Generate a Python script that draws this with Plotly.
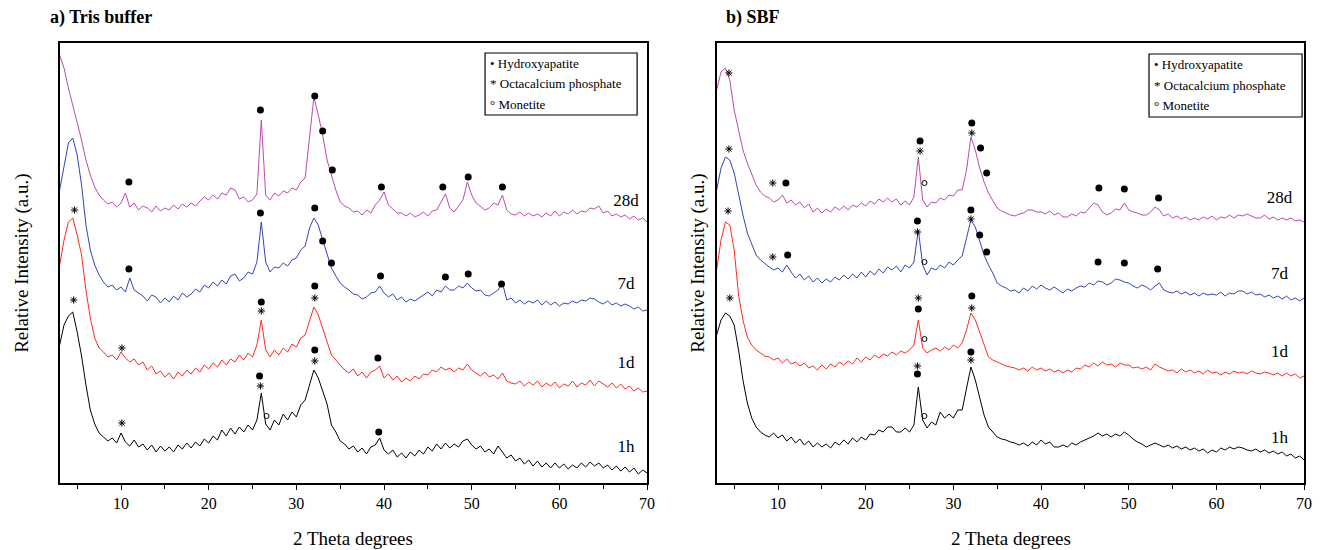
import plotly.graph_objects as go

W, H = 1325, 550

# 2-theta scan grid (degrees), 0.5 deg steps from 3 to 70
TWO_THETA = [3.0 + 0.5 * i for i in range(135)]

# ---------------- a) Tris buffer ----------------
tris_1h = [155,175,184,188,168,144,115,90,76,67,
           63,59,62,57,67,58,54,60,53,56,
           50,55,48,54,49,53,48,55,51,57,
           52,58,54,61,57,64,60,70,64,72,
           66,73,68,75,70,80,107,76,70,80,
           75,86,80,88,83,95,100,116,130,122,
           108,96,75,68,59,56,51,54,48,52,
           46,53,55,62,50,46,50,43,47,42,
           48,44,50,46,53,49,56,51,57,52,
           56,53,59,61,55,51,54,48,51,46,
           54,48,42,45,39,42,36,40,34,39,
           33,37,32,37,32,36,31,35,32,37,
           33,38,34,37,32,35,30,34,29,33,
           28,32,26,30,27]
tris_1d = [235,260,278,282,265,245,210,182,162,152,
           148,143,145,140,148,142,138,141,135,138,
           130,134,126,129,123,127,121,128,124,130,
           126,132,128,135,131,137,133,140,135,141,
           138,145,140,147,143,155,180,150,143,150,
           145,152,148,156,153,162,165,178,193,185,
           172,158,145,140,135,130,127,131,124,128,
           122,128,130,134,122,126,120,124,118,122,
           119,124,121,126,125,130,128,133,130,132,
           128,132,130,136,130,127,124,128,123,125,
           121,127,119,117,116,119,114,118,115,119,
           113,117,114,118,112,116,114,119,113,117,
           115,120,114,119,116,113,117,112,116,111,
           114,109,112,108,109]
tris_7d = [310,335,357,362,345,315,275,250,235,225,
           218,213,215,210,213,208,222,210,207,204,
           199,205,203,197,202,198,204,200,207,203,
           206,211,208,215,212,218,214,220,216,224,
           226,219,222,228,226,238,278,238,228,233,
           232,237,234,240,242,250,254,272,282,275,
           260,245,232,224,217,213,210,206,205,201,
           203,207,208,214,207,203,206,200,203,198,
           201,199,202,205,208,204,210,208,214,210,
           210,214,212,217,212,209,210,205,204,207,
           210,217,200,202,197,200,196,199,197,200,
           195,199,195,198,194,197,196,199,197,200,
           199,202,201,198,196,199,195,197,194,196,
           194,191,193,189,190]
tris_28d = [445,432,412,395,380,360,340,325,313,305,
            300,296,298,293,297,307,293,297,290,294,
            292,288,294,289,292,290,295,291,296,293,
            297,294,299,303,300,305,301,307,305,312,
            310,301,303,298,300,306,380,305,300,307,
            304,309,307,312,310,318,322,360,403,385,
            365,340,325,310,298,294,292,288,289,285,
            290,287,295,300,308,295,291,287,287,284,
            287,283,285,288,284,289,290,298,306,292,
            288,294,300,318,305,297,293,290,292,297,
            295,305,290,286,285,288,284,287,284,286,
            283,287,284,289,284,288,286,290,286,289,
            288,292,291,294,287,289,284,286,283,285,
            281,284,280,282,278]

# ---------------- b) SBF ----------------
sbf_1h = [165,180,187,184,175,150,120,97,82,73,
          68,65,63,67,62,65,59,63,57,61,
          55,59,53,57,53,56,52,58,55,60,
          56,62,58,63,60,66,65,70,68,73,
          73,68,68,72,68,75,113,80,72,78,
          75,88,82,86,82,90,90,110,133,120,
          103,85,73,68,63,61,60,58,57,55,
          57,54,58,55,60,56,58,53,53,55,
          53,57,55,58,60,62,64,67,64,66,
          63,66,64,68,65,61,58,56,53,55,
          57,55,53,55,52,54,51,53,50,52,
          49,51,47,50,48,52,50,53,51,53,
          52,50,49,51,48,50,47,49,46,48,
          44,46,42,44,40]
sbf_1d = [230,260,278,275,250,205,180,163,155,150,
          147,144,143,140,142,137,141,136,138,134,
          137,132,134,130,135,131,136,133,138,135,
          139,136,142,138,143,140,145,142,146,144,
          148,145,149,147,150,155,180,152,147,150,
          152,149,153,150,155,152,157,170,187,180,
          168,155,143,140,138,136,134,133,132,130,
          132,129,133,130,132,129,131,128,130,127,
          130,128,132,131,135,133,137,134,138,135,
          136,133,137,135,135,132,133,131,133,130,
          136,133,131,129,130,127,131,128,130,127,
          129,126,130,127,128,125,128,126,129,127,
          128,126,129,127,126,128,127,125,127,124,
          127,124,126,122,124]
sbf_7d = [310,332,343,340,327,305,285,267,255,245,
          240,236,233,230,232,228,235,228,222,226,
          220,224,218,222,217,221,218,223,220,225,
          221,226,222,228,223,229,225,231,227,233,
          230,234,228,235,232,238,270,235,225,232,
          230,235,232,238,235,240,244,262,280,273,
          260,245,235,227,217,214,212,209,210,207,
          212,209,214,211,215,212,210,213,210,207,
          211,209,212,214,213,217,215,219,218,215,
          217,221,220,218,217,214,212,215,213,210,
          214,217,210,208,207,209,206,208,205,207,
          204,207,205,206,205,208,204,207,206,209,
          209,206,208,205,206,203,205,202,204,201,
          204,200,202,199,202]
sbf_28d = [410,428,432,420,390,370,350,337,325,315,
           308,304,302,298,300,305,297,300,295,298,
           292,296,288,292,287,291,288,293,290,294,
           290,295,293,297,294,299,296,301,298,302,
           298,301,295,299,295,303,343,300,293,298,
           297,302,300,305,304,310,310,330,363,350,
           332,318,307,300,292,289,287,285,284,286,
           287,290,290,288,288,286,289,285,287,283,
           283,286,284,288,287,292,297,295,288,285,
           287,291,290,297,290,288,287,285,285,288,
           293,290,284,286,282,284,281,283,280,282,
           280,283,281,284,280,283,282,285,282,285,
           284,286,284,282,282,285,281,283,280,282,
           280,282,279,280,278]

for s in (tris_1h, tris_1d, tris_7d, tris_28d, sbf_1h, sbf_1d, sbf_7d, sbf_28d):
    assert len(s) == len(TWO_THETA), len(s)

SAMPLE_LABELS = ["1h", "1d", "7d", "28d"]
COLORS = ["#000000", "#ff2a1f", "#3246b4", "#bb4aad"]

# phase markers: Hydroxyapatite (dot), Octacalcium phosphate (star), Monetite (open circle)
tris_hap_x = [10.9, 25.9, 32.1, 33.0, 34.1, 39.7, 46.7, 49.6, 53.5,
              10.9, 25.9, 32.1, 33.0, 34.0, 39.6, 47.0, 49.6, 53.4,
              26.0, 32.1, 39.3,
              25.8, 32.1, 39.4]
tris_hap_y = [318, 390, 404, 369, 330, 313, 313, 323, 313,
              231, 287, 292, 259, 237, 224, 223, 226, 216,
              198, 214, 142,
              124, 150, 68]
tris_ocp_x = [4.7, 10.1, 26.0, 32.1, 4.6, 10.1, 25.9, 32.1]
tris_ocp_y = [290, 152, 189, 202, 200, 77, 114, 139]
tris_mon_x = [26.6]
tris_mon_y = [84]

sbf_hap_x = [10.9, 26.2, 32.1, 33.1, 33.8, 46.6, 49.5, 53.4,
             11.1, 25.9, 32.0, 33.0, 33.8, 46.5, 49.5, 53.3,
             26.0, 32.1,
             25.9, 32.0]
sbf_hap_y = [317, 359, 377, 352, 327, 312, 311, 302,
             245, 279, 290, 265, 248, 238, 237, 231,
             191, 204,
             126, 148]
sbf_ocp_x = [4.4, 9.4, 26.2, 32.1, 4.4, 9.4, 25.9, 32.0, 4.3, 26.0, 32.1, 4.5, 25.9, 32.0]
sbf_ocp_y = [427, 317, 349, 367, 351, 243, 268, 281, 289, 202, 192, 202, 134, 140]
sbf_mon_x = [26.7, 26.7, 26.7, 26.7]
sbf_mon_y = [317, 238, 161, 84]

tris_label_y = [52, 136, 215, 298]
sbf_label_y = [61, 147, 225, 301]

LEGEND_TEXT = ["• Hydroxyapatite", "* Octacalcium phosphate", "° Monetite"]

FONT = "Liberation Serif, Times New Roman, serif"

fig = go.Figure()

def add_panel(xa, ya, series, hap, ocp, mon, label_y, label_x):
    for s, c in zip(series, COLORS):
        fig.add_trace(go.Scatter(x=TWO_THETA, y=s, mode="lines", xaxis=xa, yaxis=ya,
                                 line=dict(color=c, width=1), showlegend=False,
                                 hoverinfo="skip"))
    fig.add_trace(go.Scatter(x=hap[0], y=hap[1], mode="markers", xaxis=xa, yaxis=ya,
                             marker=dict(symbol="circle", size=7, color="black"),
                             showlegend=False))
    fig.add_trace(go.Scatter(x=ocp[0], y=ocp[1], mode="markers", xaxis=xa, yaxis=ya,
                             marker=dict(symbol="asterisk-open", size=6, color="black",
                                         line=dict(width=1, color="#222222")),
                             showlegend=False))
    fig.add_trace(go.Scatter(x=mon[0], y=mon[1], mode="markers", xaxis=xa, yaxis=ya,
                             marker=dict(symbol="circle-open", size=5, color="black",
                                         line=dict(width=1, color="black")),
                             showlegend=False))
    fig.add_trace(go.Scatter(x=[label_x] * 4, y=label_y, mode="text", xaxis=xa, yaxis=ya,
                             text=SAMPLE_LABELS, textposition="middle center",
                             textfont=dict(family=FONT, size=17, color="black"),
                             showlegend=False))

add_panel("x", "y", [tris_1h, tris_1d, tris_7d, tris_28d],
          (tris_hap_x, tris_hap_y), (tris_ocp_x, tris_ocp_y), (tris_mon_x, tris_mon_y),
          tris_label_y, 67.6)
add_panel("x2", "y2", [sbf_1h, sbf_1d, sbf_7d, sbf_28d],
          (sbf_hap_x, sbf_hap_y), (sbf_ocp_x, sbf_ocp_y), (sbf_mon_x, sbf_mon_y),
          sbf_label_y, 67.2)

def px(x):
    return x / W

def py(y):
    return 1 - y / H

xaxis_common = dict(range=[3, 70], dtick=10, tick0=0, ticks="outside", ticklen=5,
                    tickwidth=1.2, tickcolor="black",
                    minor=dict(dtick=5, tick0=0, ticks="outside", ticklen=4, tickcolor="black"),
                    showline=True, linecolor="black", linewidth=1.6, mirror=True,
                    showgrid=False, zeroline=False,
                    tickfont=dict(family=FONT, size=16, color="black"))
yaxis_common = dict(range=[17, 457], showticklabels=False, ticks="", showgrid=False,
                    zeroline=False, showline=True, linecolor="black", linewidth=1.6,
                    mirror=True, domain=[py(483), py(43)])

fig.update_layout(
    width=W, height=H, margin=dict(l=0, r=0, t=0, b=0),
    paper_bgcolor="white", plot_bgcolor="white",
    font=dict(family=FONT, color="black"),
    xaxis=dict(xaxis_common, domain=[px(60), px(651)], anchor="y"),
    yaxis=dict(yaxis_common, anchor="x"),
    xaxis2=dict(xaxis_common, domain=[px(721), px(1312)], anchor="y2"),
    yaxis2=dict(yaxis_common, anchor="x2"),
    showlegend=False,
)

annotations = []
shapes = []
for title, tx, cx, box in [("a) Tris buffer", 48, 355, (488, 53, 641, 115)),
                           ("b) SBF", 728, 1017, (1156, 54, 1310, 117))]:
    annotations.append(dict(text="<b>" + title + "</b>", x=px(tx), y=py(18), xref="paper", yref="paper",
                            xanchor="left", yanchor="middle", showarrow=False,
                            font=dict(family=FONT, size=18, color="black")))
    annotations.append(dict(text="2 Theta degrees", x=px(cx), y=py(538), xref="paper", yref="paper",
                            xanchor="center", yanchor="middle", showarrow=False,
                            font=dict(family=FONT, size=19, color="black")))
    annotations.append(dict(text="Relative Intensity (a.u.)", x=px(tx - 26), y=py(263),
                            xref="paper", yref="paper", textangle=-90,
                            xanchor="center", yanchor="middle", showarrow=False,
                            font=dict(family=FONT, size=19, color="black")))
    x0, y0, x1, y1 = box
    shapes.append(dict(type="rect", xref="paper", yref="paper", x0=px(x0), x1=px(x1),
                       y0=py(y1), y1=py(y0), line=dict(color="black", width=1.2)))
    for i, t in enumerate(LEGEND_TEXT):
        annotations.append(dict(text=t, x=px(x0 + 3), y=py(y0 + 11 + i * 20), xref="paper",
                                yref="paper", xanchor="left", yanchor="middle", showarrow=False,
                                font=dict(family=FONT, size=13, color="black")))

fig.update_layout(annotations=annotations, shapes=shapes)
fig.write_html("out.html", config={"displayModeBar": False},
               post_script="document.body.style.margin='0';document.body.style.overflow='hidden';")
